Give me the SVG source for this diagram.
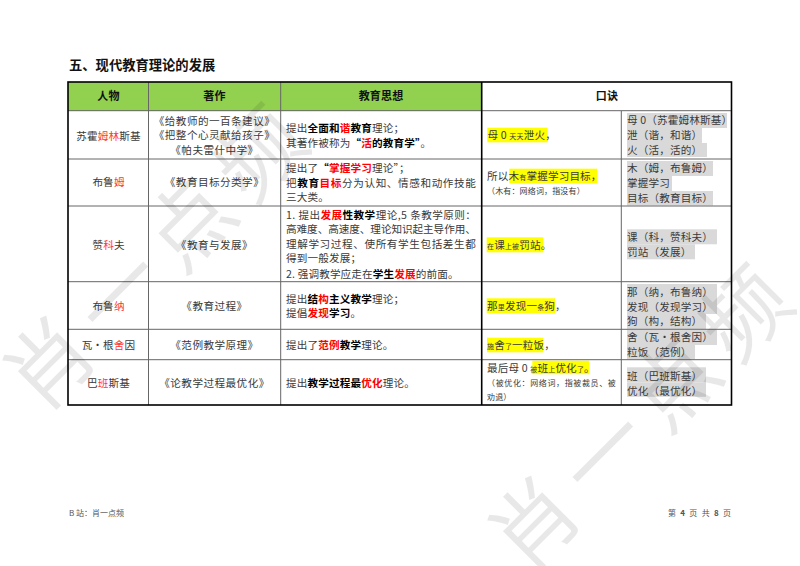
<svg xmlns="http://www.w3.org/2000/svg" width="800" height="566" viewBox="0 0 800 566">
<style>
text{font-family:"Noto Sans CJK SC","Noto Sans",sans-serif;font-size:10.6px;fill:#3a3a3a;letter-spacing:.15px}
.c{text-anchor:middle}
.k{letter-spacing:.45px}
.b{font-weight:700;fill:#000}
.r{font-weight:700;fill:#f00}
.n{fill:#f33}
.h{font-weight:700;fill:#111;font-size:11px}
.s{font-size:7px}
.t{font-size:8px}
.f{font-size:8px;fill:#555;letter-spacing:0}
.y{fill:#ff0}
.g{fill:#d9d9d9}
.in{stroke:#666;stroke-width:1;fill:none}
.out{stroke:#000;stroke-width:1.6;fill:none}
.w{font-size:86px;fill:#000;fill-opacity:.09;letter-spacing:13px}
</style>
<rect width="800" height="566" fill="#fff"/>
<text x="69" y="70" style="font-size:13.3px;font-weight:700;fill:#111;letter-spacing:0">五、现代教育理论的发展</text>

<g id="header">
<rect x="68" y="82" width="413.500" height="29" fill="#92d050"/>
<text class="c h" x="108.500" y="100">人物</text>
<text class="c h" x="214.500" y="100">著作</text>
<text class="c h" x="381" y="100">教育思想</text>
<text class="c h" x="607" y="100">口诀</text>
</g>

<g id="highlights">
<rect class="y" x="487.300" y="127.700" width="60.400" height="14.600"/>
<rect class="y" x="509.300" y="168.700" width="88" height="14.600"/>
<rect class="y" x="486.700" y="237.300" width="56.600" height="15"/>
<rect class="y" x="486.700" y="298.300" width="68.300" height="15"/>
<rect class="y" x="487" y="337.700" width="56.300" height="14.600"/>
<rect class="y" x="532.300" y="360.700" width="57" height="13.500"/>
<rect class="g" x="627" y="113" width="100" height="15"/><rect class="g" x="627" y="128" width="75" height="15"/><rect class="g" x="627" y="143" width="80" height="14"/>
<rect class="g" x="627" y="161" width="86" height="15"/><rect class="g" x="627" y="176" width="45" height="15"/><rect class="g" x="627" y="191" width="86" height="14.500"/>
<rect class="g" x="627" y="229.300" width="90" height="15"/><rect class="g" x="627" y="244.300" width="68" height="15"/>
<rect class="g" x="627" y="284" width="90" height="15"/><rect class="g" x="627" y="299" width="90" height="15"/><rect class="g" x="627" y="314" width="79" height="15"/>
<rect class="g" x="627" y="330" width="90" height="15"/><rect class="g" x="627" y="345" width="68" height="14.500"/>
<rect class="g" x="627" y="367.300" width="79" height="15"/><rect class="g" x="627" y="382.300" width="79" height="14.500"/>
</g>

<g id="grid">
<path class="in" d="M68 159H731M68 206H731M68 281.700H731M68 329.300H731M68 359.700H731M148.500 82V405M280.700 82V405M621.300 111V405M68 110.700H731"/>
<path class="out" d="M481.700 82V405"/>
<rect class="out" x="68" y="82" width="663.500" height="323"/>
</g>

<g id="row1">
<text class="c" x="108.500" y="139.500">苏霍<tspan class="n">姆林</tspan>斯基</text>
<text class="c k" x="214.500" y="124.500">《给教师的一百条建议》</text>
<text class="c k" x="214.500" y="139">《把整个心灵献给孩子》</text>
<text class="c k" x="214.500" y="154">《帕夫雷什中学》</text>
<text x="286" y="132">提出<tspan class="b">全面和</tspan><tspan class="r">谐</tspan><tspan class="b">教育</tspan>理论&#xFF1B;</text>
<text x="286" y="147">其著作被称为<tspan class="b">“</tspan><tspan class="r">活</tspan><tspan class="b">的教育学”</tspan>。</text>
<text x="487.500" y="139">母 0 <tspan class="s">天天</tspan>泄火&#xFF0C;</text>
<text x="627" y="124">母 0&#xFF08;苏霍姆林斯基&#xFF09;</text>
<text x="627" y="139">泄&#xFF08;谐&#xFF0C;和谐&#xFF09;</text>
<text x="627" y="154">火&#xFF08;活&#xFF0C;活的&#xFF09;</text>
</g>

<g id="row2">
<text class="c" x="108.500" y="186">布鲁<tspan class="n">姆</tspan></text>
<text class="c k" x="214.500" y="186">《教育目标分类学》</text>
<text x="286" y="172">提出了<tspan class="b">“</tspan><tspan class="r">掌握学习</tspan>理论”&#xFF1B;</text>
<text x="286" y="187" textLength="190">把<tspan class="b">教育</tspan><tspan class="r">目标</tspan>分为认知、情感和动作技能</text>
<text x="286" y="201">三大类。</text>
<text x="487" y="180">所以<tspan>木</tspan><tspan class="s">有</tspan>掌握学习目标&#xFF0C;</text>
<text class="t" x="487" y="194">&#xFF08;木有&#xFF1A;网络词&#xFF0C;指没有&#xFF09;</text>
<text x="627" y="172">木&#xFF08;姆&#xFF0C;布鲁姆&#xFF09;</text>
<text x="627" y="187">掌握学习</text>
<text x="627" y="202">目标&#xFF08;教育目标&#xFF09;</text>
</g>

<g id="row3">
<text class="c" x="108.500" y="249">赞<tspan class="n">科</tspan>夫</text>
<text class="c k" x="214.500" y="249">《教育与发展》</text>
<text x="286" y="219" textLength="190">1. 提出<tspan class="r">发展</tspan><tspan class="b">性教学</tspan>理论,5 条教学原则&#xFF1A;</text>
<text x="286" y="233" textLength="190">高难度、高速度、理论知识起主导作用、</text>
<text x="286" y="248" textLength="190">理解学习过程、使所有学生包括差生都</text>
<text x="286" y="262">得到一般发展&#xFF1B;</text>
<text x="286" y="278">2. 强调教学应走在<tspan class="b">学生</tspan><tspan class="r">发展</tspan>的前面。</text>
<text x="487" y="248.500"><tspan class="s">在</tspan>课<tspan class="s">上被</tspan>罚站。</text>
<text x="627" y="240.500">课&#xFF08;科&#xFF0C;赞科夫&#xFF09;</text>
<text x="627" y="255.500">罚站&#xFF08;发展&#xFF09;</text>
</g>

<g id="row4">
<text class="c" x="108.500" y="309.500">布鲁<tspan class="n">纳</tspan></text>
<text class="c k" x="214.500" y="309.500">《教育过程》</text>
<text x="286" y="303">提出<tspan class="b">结</tspan><tspan class="r">构</tspan><tspan class="b">主义教学</tspan>理论&#xFF1B;</text>
<text x="286" y="317">提倡<tspan class="r">发现</tspan><tspan class="b">学习</tspan>。</text>
<text x="487" y="310">那<tspan class="s">里</tspan>发现一<tspan class="s">条</tspan>狗&#xFF0C;</text>
<text x="627" y="296">那&#xFF08;纳&#xFF0C;布鲁纳&#xFF09;</text>
<text x="627" y="311">发现&#xFF08;发现学习&#xFF09;</text>
<text x="627" y="325">狗&#xFF08;构&#xFF0C;结构&#xFF09;</text>
</g>

<g id="row5">
<text class="c" x="108.500" y="349">瓦·根<tspan class="n">舍</tspan>因</text>
<text class="c k" x="214.500" y="349">《范例教学原理》</text>
<text x="286" y="349">提出了<tspan class="r">范例</tspan><tspan class="b">教学</tspan>理论。</text>
<text x="487" y="349"><tspan class="s">施</tspan>舍<tspan class="s">了</tspan>一粒饭&#xFF0C;</text>
<text x="627" y="341">舍&#xFF08;瓦·根舍因&#xFF09;</text>
<text x="627" y="356">粒饭&#xFF08;范例&#xFF09;</text>
</g>

<g id="row6">
<text class="c" x="108.500" y="387">巴<tspan class="n">班</tspan>斯基</text>
<text class="c k" x="214.500" y="387">《论教学过程最优化》</text>
<text x="286" y="386.500">提出<tspan class="b">教学过程最</tspan><tspan class="r">优化</tspan>理论。</text>
<text x="487" y="371.500">最后母 0 <tspan class="s">被</tspan>班<tspan class="s">上</tspan>优化<tspan class="s">了</tspan>。</text>
<text class="t" x="487" y="386" textLength="129">&#xFF08;被优化&#xFF1A;网络词&#xFF0C;指被裁员、被</text>
<text class="t" x="487" y="400">劝退&#xFF09;</text>
<text x="627" y="379.500">班&#xFF08;巴班斯基&#xFF09;</text>
<text x="627" y="394.500">优化&#xFF08;最优化&#xFF09;</text>
</g>

<g id="footer">
<text class="f" x="69" y="516">B 站&#xFF1A;肖一点频</text>
<text class="f" x="731" y="516" text-anchor="end" word-spacing="2.500">第 <tspan font-weight="700">4</tspan> 页 共 <tspan font-weight="700">8</tspan> 页</text>
</g>

<g id="watermark">
<text class="w" transform="translate(41 416) rotate(-45)">肖一点频</text>
<text class="w" transform="translate(526 576) rotate(-45)">肖一点频</text>
</g>
</svg>
